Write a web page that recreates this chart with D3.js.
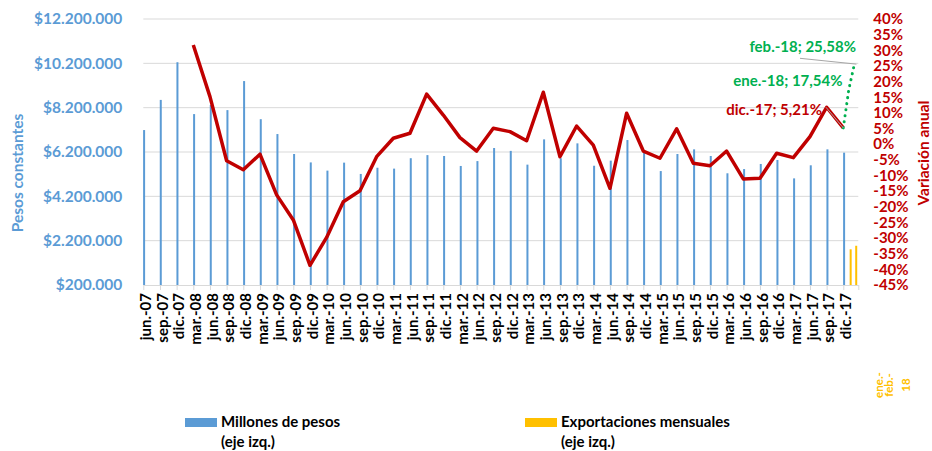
<!DOCTYPE html>
<html lang="es">
<head>
<meta charset="UTF-8">
<title>Pesos constantes y variación anual</title>
<script src="https://d3js.org/d3.v7.min.js"></script>
<style>
    body { margin: 0; background: #fff; }
    svg text { font-family: Lato, "Open Sans", sans-serif; font-weight: bold; }
    .grid line { stroke: #d9d9d9; stroke-width: 1; }
</style>
</head>
<body>
<div id="chart"></div>
<script>
// quarterly categories (months since jun.-07 = index * 3)
const quarters = [
    "jun.-07","sep.-07","dic.-07",
    "mar.-08","jun.-08","sep.-08","dic.-08",
    "mar.-09","jun.-09","sep.-09","dic.-09",
    "mar.-10","jun.-10","sep.-10","dic.-10",
    "mar.-11","jun.-11","sep.-11","dic.-11",
    "mar.-12","jun.-12","sep.-12","dic.-12",
    "mar.-13","jun.-13","sep.-13","dic.-13",
    "mar.-14","jun.-14","sep.-14","dic.-14",
    "mar.-15","jun.-15","sep.-15","dic.-15",
    "mar.-16","jun.-16","sep.-16","dic.-16",
    "mar.-17","jun.-17","sep.-17","dic.-17"
];

// Millones de pesos (eje izq.)
const pesos = [
    7190000, 8550000, 10250000,
    7910000, 8320000, 8090000, 9400000,
    7680000, 7010000, 6110000, 5730000,
    5360000, 5720000, 5210000, 5490000,
    5450000, 5920000, 6060000, 6020000,
    5570000, 5790000, 6380000, 6250000,
    5630000, 6770000, 5920000, 6590000,
    5580000, 5810000, 6740000, 6170000,
    5340000, 6110000, 6320000, 6020000,
    5240000, 5430000, 5660000, 5840000,
    5010000, 5600000, 6320000, 6170000
];

// Variación anual (%)
const variacion = [
    null, null, null,
    31.7, 15.2, -5.3, -8.2,
    -3.2, -16.2, -24.2, -38.7,
    -29.8, -18.4, -14.9, -4.0,
    1.9, 3.5, 16.0, 9.3,
    2.1, -2.2, 5.1, 4.0,
    1.1, 16.6, -4.0, 5.8,
    -0.3, -14.1, 9.9, -2.2,
    -4.5, 4.9, -6.1, -6.9,
    -2.2, -11.1, -10.9, -2.9,
    -4.3, 2.4, 11.8, 5.21
];

// Exportaciones mensuales 2018 (months since jun.-07)
const exportMonths = [127, 128];
const exportNames = ["ene.-18", "feb.-18"];
const exportValues = [1810000, 1970000];
const exportVariacion = [17.54, 25.58];

const leftTicks = [200000, 2200000, 4200000, 6200000, 8200000, 10200000, 12200000];
const rightTicks = d3.range(-45, 41, 5);

const width = 932, height = 451;
const plot = {left: 143.3, right: 858.3, top: 19, bottom: 285};

const svg = d3.select("#chart").append("svg")
    .attr("width", width)
    .attr("height", height);

const x = d3.scaleLinear().domain([0, 128.7]).range([plot.left, plot.right]);
const yLeft = d3.scaleLinear().domain([200000, 12200000]).range([plot.bottom, plot.top]);
const yRight = d3.scaleLinear().domain([-45, 40]).range([plot.bottom, plot.top]);

const esLocale = d3.formatLocale({decimal: ",", thousands: ".", grouping: [3], currency: ["$", ""]});
const fmtPesos = esLocale.format("$,");
const fmtPct = esLocale.format(".2f");

// gridlines
svg.append("g").attr("class", "grid")
    .selectAll("line").data(leftTicks.slice(1)).join("line")
    .attr("x1", plot.left).attr("x2", plot.right)
    .attr("y1", d => yLeft(d)).attr("y2", d => yLeft(d));

// left axis
const gLeft = svg.append("g")
    .attr("transform", `translate(${plot.left},0)`)
    .call(d3.axisLeft(yLeft).tickValues(leftTicks).tickFormat(fmtPesos).tickSize(0).tickPadding(21));
gLeft.select(".domain").remove();
gLeft.selectAll("text").attr("fill", "#5b9bd5").style("font-size", "15.5px");

// right axis
const gRight = svg.append("g")
    .attr("transform", `translate(${plot.right},0)`)
    .call(d3.axisRight(yRight).tickValues(rightTicks).tickFormat(d => d + "%").tickSize(0).tickPadding(15));
gRight.select(".domain").remove();
gRight.selectAll("text").attr("fill", "#c00000").style("font-size", "15px");

// bottom axis
const tickMonths = quarters.map((q, i) => i * 3).concat([128.7]);
const gBottom = svg.append("g")
    .attr("transform", `translate(0,${plot.bottom})`)
    .call(d3.axisBottom(x).tickValues(tickMonths)
        .tickFormat(m => m % 3 === 0 ? quarters[m / 3] : "")
        .tickSize(5).tickSizeOuter(0));
gBottom.select(".domain").attr("stroke", "#d9d9d9");
gBottom.selectAll(".tick line").attr("stroke", "#d9d9d9");
gBottom.selectAll("text")
    .attr("fill", "#000")
    .style("font-size", "15px")
    .attr("transform", "rotate(-90)")
    .attr("text-anchor", "end")
    .attr("x", -8)
    .attr("y", 2)
    .attr("dy", "0.35em");

// bars
svg.append("g").selectAll("rect").data(pesos).join("rect")
    .attr("x", (d, i) => x(i * 3) - 0.2)
    .attr("width", 2)
    .attr("y", d => yLeft(d))
    .attr("height", d => plot.bottom - yLeft(d))
    .attr("fill", "#5b9bd5");

svg.append("g").selectAll("rect").data(exportValues).join("rect")
    .attr("x", (d, i) => x(exportMonths[i]) + 0.8)
    .attr("width", 2)
    .attr("y", d => yLeft(d))
    .attr("height", d => plot.bottom - yLeft(d))
    .attr("fill", "#ffc000");

// variation line
const lineData = variacion.map((v, i) => ({m: i * 3, v})).filter(d => d.v !== null);
const line = d3.line().x(d => x(d.m)).y(d => yRight(d.v));
svg.append("path").datum(lineData)
    .attr("d", line)
    .attr("fill", "none")
    .attr("stroke", "#c00000")
    .attr("stroke-width", 3.5)
    .attr("stroke-linejoin", "round");

// 2018 dotted extension
const last = lineData[lineData.length - 1];
const greenData = [last].concat(exportMonths.map((m, i) => ({m, v: exportVariacion[i]})));
svg.append("path").datum(greenData)
    .attr("d", line)
    .attr("fill", "none")
    .attr("stroke", "#00b050")
    .attr("stroke-width", 3)
    .attr("stroke-linecap", "round")
    .attr("stroke-dasharray", "0.1 6");

// data labels with leaders
svg.append("line")
    .attr("x1", 800).attr("y1", 58.3)
    .attr("x2", x(128) + 2).attr("y2", yRight(25.58))
    .attr("stroke", "#a6a6a6").attr("stroke-width", 1);
svg.append("line")
    .attr("x1", 826).attr("y1", 107.3)
    .attr("x2", x(last.m)).attr("y2", yRight(last.v))
    .attr("stroke", "#a6a6a6").attr("stroke-width", 1);

const labels = [
    {text: `${exportNames[1]}; ${fmtPct(exportVariacion[1])}%`, x: 856, y: 51.5, color: "#00b050"},
    {text: `${exportNames[0]}; ${fmtPct(exportVariacion[0])}%`, x: 842.5, y: 85.5, color: "#00b050"},
    {text: `${quarters[quarters.length - 1]}; ${fmtPct(last.v)}%`, x: 822, y: 115, color: "#c00000"}
];
svg.append("g").selectAll("text").data(labels).join("text")
    .attr("x", d => d.x).attr("y", d => d.y)
    .attr("text-anchor", "end")
    .attr("fill", d => d.color)
    .style("font-size", "15px")
    .text(d => d.text);

// 2018 category label
const extraLines = [{t: "ene.-", dx: 883}, {t: "feb.-", dx: 893}, {t: "18", dx: 910}];
svg.append("g").selectAll("text").data(extraLines).join("text")
    .attr("transform", d => `translate(${d.dx},385) rotate(-90)`)
    .attr("text-anchor", "middle")
    .attr("fill", "#ffc000")
    .style("font-size", "11.5px")
    .text(d => d.t);

// axis titles
svg.append("text")
    .attr("transform", "translate(23,173) rotate(-90)")
    .attr("text-anchor", "middle")
    .attr("fill", "#5b9bd5")
    .style("font-size", "15.5px")
    .text("Pesos constantes");

svg.append("text")
    .attr("transform", "translate(929,153) rotate(-90)")
    .attr("text-anchor", "middle")
    .attr("fill", "#c00000")
    .style("font-size", "15.5px")
    .text("Variación anual");

// legend
const legend = [
    {color: "#5b9bd5", l1: "Millones de pesos", l2: "(eje izq.)", x: 185},
    {color: "#ffc000", l1: "Exportaciones mensuales", l2: "(eje izq.)", x: 525}
];
const lg = svg.append("g").selectAll("g").data(legend).join("g")
    .attr("transform", d => `translate(${d.x},0)`);
lg.append("rect").attr("x", 0).attr("y", 418).attr("width", 32).attr("height", 9)
    .attr("fill", d => d.color);
lg.append("text").attr("x", 36).attr("y", 427).style("font-size", "15px")
    .attr("fill", "#000").text(d => d.l1);
lg.append("text").attr("x", 36).attr("y", 447).style("font-size", "15px")
    .attr("fill", "#000").text(d => d.l2);
</script>
</body>
</html>
